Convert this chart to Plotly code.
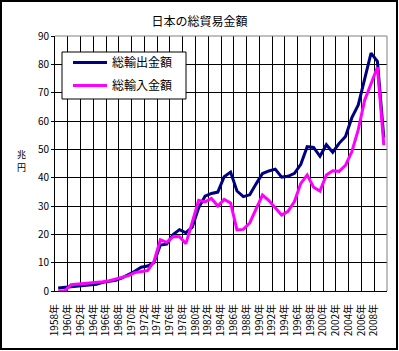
import plotly.graph_objects as go

years = list(range(1958, 2010))
exports = [1.03, 1.24, 1.46, 1.53, 1.76, 1.97, 2.40, 3.04, 3.52, 3.76,
           4.62, 5.76, 6.95, 8.39, 8.81, 10.03, 16.21, 16.55, 19.93, 21.65,
           20.56, 22.53, 29.38, 33.47, 34.43, 34.91, 40.33, 41.96, 35.29, 33.32,
           33.94, 37.82, 41.46, 42.36, 43.01, 40.20, 40.50, 41.53, 44.73, 50.94,
           50.65, 47.55, 51.65, 48.98, 52.11, 54.55, 61.17, 65.66, 75.25, 83.93,
           81.02, 54.17]
imports = [0.0, 0.0, 2.2, 2.4, 2.5, 2.7, 3.0, 3.3, 3.6, 4.2,
           4.7, 5.4, 6.5, 6.9, 7.23, 10.40, 18.08, 17.17, 19.23, 19.13,
           16.73, 24.25, 31.99, 31.46, 32.66, 30.01, 32.32, 31.08, 21.55, 21.74,
           24.01, 28.98, 33.86, 31.90, 29.53, 26.83, 28.10, 31.55, 37.99, 40.96,
           36.65, 35.27, 40.94, 42.42, 42.23, 44.36, 49.22, 56.95, 67.34, 73.14,
           78.95, 51.50]
label_years = list(range(1958, 2009, 2))
tick_labels = [f"{y}年" for y in label_years]
series_names = ["総輸出金額", "総輸入金額"]
title_text = "日本の総貿易金額"
y_title_chars = ["兆", "円"]

W, H = 399, 351
L, R, T, B = 55, 12, 36, 60
pw, ph = W - L - R, H - T - B

def px_x(x):
    return (x - L) / pw

def px_y(y):
    return (H - B - y) / ph

FONT = "Noto Sans CJK JP"

fig = go.Figure()
fig.add_trace(go.Scatter(x=years, y=exports, mode="lines", name=series_names[0],
                         legendgroup="a",
                         line=dict(color="#000080", width=3)))
fig.add_trace(go.Scatter(x=years, y=imports, mode="lines", name=series_names[1],
                         legendgroup="b",
                         line=dict(color="#FF00FF", width=3)))

fig.update_layout(
    width=W, height=H,
    margin=dict(l=L, r=R, t=T, b=B, pad=0),
    paper_bgcolor="white", plot_bgcolor="white",
    font=dict(family=FONT, size=10, color="black"),
    title=dict(text=title_text, x=0.5, xref="container", xanchor="center",
               y=1 - 22 / H, yref="container", yanchor="middle",
               font=dict(size=12, family=FONT, color="black")),
    showlegend=True,
    legend=dict(x=px_x(68), y=px_y(48), xanchor="left", yanchor="top",
                bgcolor="rgba(0,0,0,0)", borderwidth=0, itemwidth=34,
                font=dict(size=12, family=FONT), tracegroupgap=4),
    xaxis=dict(range=[1957.5, 2009.5], tickmode="array",
               tickvals=[y - 0.5 for y in label_years], ticktext=tick_labels,
               tickangle=-90, showgrid=True, gridcolor="black", gridwidth=1,
               showline=True, linecolor="black", linewidth=1, ticks="",
               ticklabelstandoff=8, zeroline=False,
               tickfont=dict(size=10, family=FONT)),
    yaxis=dict(range=[0, 90], dtick=10, tick0=0, showgrid=True,
               gridcolor="black", gridwidth=1, showline=True,
               linecolor="black", linewidth=1, ticks="outside", ticklen=3,
               tickcolor="black", zeroline=False,
               tickfont=dict(size=10, family=FONT)),
)

# gray plot-area border on top and right
fig.add_shape(type="line", xref="paper", yref="paper", x0=0, x1=1, y0=1, y1=1,
              line=dict(color="#808080", width=1), layer="above")
fig.add_shape(type="line", xref="paper", yref="paper", x0=1, x1=1, y0=0, y1=1,
              line=dict(color="#808080", width=1), layer="above")
# legend box
fig.add_shape(type="rect", xref="paper", yref="paper",
              x0=px_x(62), x1=px_x(186), y0=px_y(99), y1=px_y(52),
              line=dict(color="black", width=1), fillcolor="white", layer="above")
# outer chart border
fig.add_shape(type="rect", xref="paper", yref="paper",
              x0=px_x(1), x1=px_x(397), y0=px_y(349), y1=px_y(1),
              line=dict(color="black", width=2), layer="above")

for ch, cy in zip(y_title_chars, [154, 168]):
    fig.add_annotation(text=ch, xref="paper", yref="paper",
                       x=px_x(21), y=px_y(cy), xanchor="center", yanchor="middle",
                       showarrow=False, borderpad=0,
                       font=dict(size=9, family=FONT))

fig.write_html("out.html")
